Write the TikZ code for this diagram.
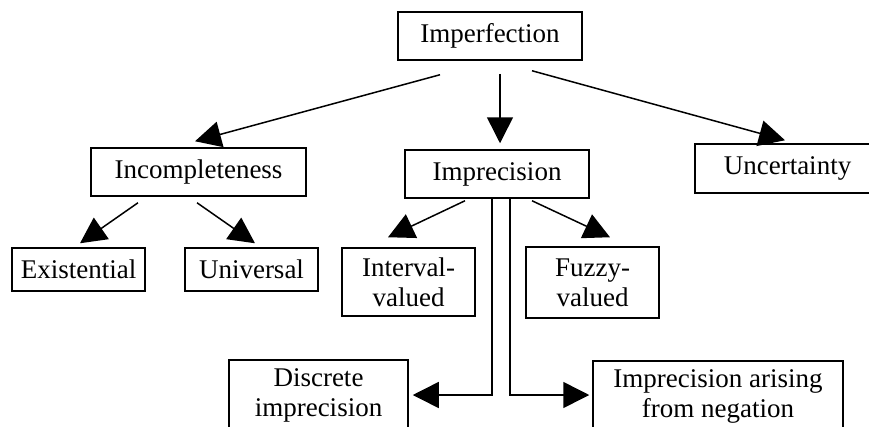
\documentclass[tikz,border=0pt]{standalone}
\usepackage{fontspec}
\setmainfont{Liberation Serif}
\usetikzlibrary{arrows.meta,calc}
\begin{document}
\begin{tikzpicture}[x=1pt,y=-1pt,
  every node/.style={font=\fontsize{27}{30}\selectfont},
  box/.style={draw,line width=1.5pt,inner sep=0pt,align=center},
  conn/.style={line width=1.5pt,-{Triangle[length=26pt,width=26pt]}}]
\useasboundingbox (0,0) rectangle (869,426);
\node[box,minimum width=184pt,minimum height=48pt] (perf) at (490,36) {Imperfection};
\node[box,minimum width=215pt,minimum height=48pt] (incomp) at (198.5,172) {Incompleteness};
\node[box,minimum width=184pt,minimum height=48pt] (imprec) at (497,174) {Imprecision};
\node[box,minimum width=185pt,minimum height=49pt] (uncert) at (787.5,168.5) {Uncertainty};
\node[box,minimum width=133pt,minimum height=43pt] (exist) at (78.5,269.5) {Existential};
\node[box,minimum width=133pt,minimum height=43pt] (univ) at (251.5,269.5) {Universal};
\node[box,minimum width=133pt,minimum height=68pt] (interval) at (408.5,282) {Interval-\\valued};
\node[box,minimum width=133pt,minimum height=71pt] (fuzzy) at (592.5,282.5) {Fuzzy-\\valued};
\node[box,minimum width=179pt,minimum height=70pt] (discrete) at (318.5,395) {Discrete\\imprecision};
\node[box,minimum width=250pt,minimum height=70pt] (neg) at (718,396) {Imprecision arising\\from negation};
\draw[conn] ($(perf.south)+(-50,14)$) -- ($(incomp.north)+(-3.5,-6)$);
\draw[conn] ($(perf.south)+(10,13)$) -- ($(imprec.north)+(3,-6)$);
\draw[conn] ($(perf.south)+(42,10)$) -- ($(uncert.north)+(-2.5,-3)$);
\draw[conn] ($(incomp.south)+(-60.5,6)$) -- ($(exist.north)+(1.5,-4)$);
\draw[conn] ($(incomp.south)+(-1.5,6)$) -- ($(univ.north)+(3.5,-4)$);
\draw[conn] ($(imprec.south)+(-32,2)$) -- ($(interval.north)+(-20.5,-10)$);
\draw[conn] ($(imprec.south)+(35,2)$) -- ($(fuzzy.north)+(17.5,-9)$);
\draw[conn] ($(imprec.south)+(-5,0)$) |- ($(discrete.east)+(4,0)$);
\draw[conn] ($(imprec.south)+(13,-1)$) |- ($(neg.west)+(-3,-1)$);
\end{tikzpicture}
\end{document}
